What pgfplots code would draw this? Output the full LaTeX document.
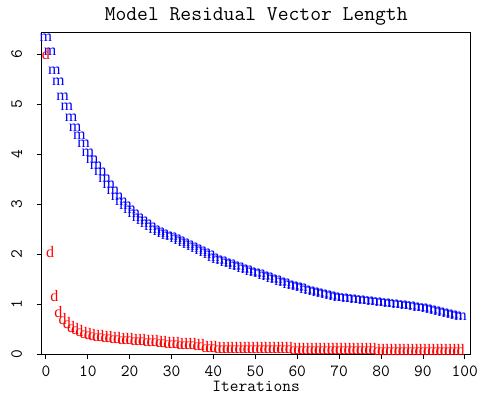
\documentclass[border=0pt]{standalone}
\usepackage{fontspec}
\newfontfamily\markfont{Liberation Serif}
\usepackage{pgfplots}
\pgfplotsset{compat=1.18}
\usepackage{pgfplotstable}
\pgfplotstableread{
it m
0 6.33
1 6.05
2 5.67
3 5.45
4 5.14
5 4.95
6 4.72
7 4.53
8 4.37
9 4.20
10 4.04
11 3.90
12 3.78
13 3.65
14 3.52
15 3.40
16 3.27
17 3.16
18 3.06
19 2.97
20 2.89
21 2.82
22 2.74
23 2.67
24 2.61
25 2.55
26 2.50
27 2.46
28 2.42
29 2.38
30 2.35
31 2.31
32 2.27
33 2.23
34 2.19
35 2.15
36 2.11
37 2.07
38 2.03
39 1.99
40 1.94
41 1.90
42 1.87
43 1.84
44 1.81
45 1.78
46 1.75
47 1.72
48 1.69
49 1.66
50 1.63
51 1.61
52 1.58
53 1.55
54 1.52
55 1.49
56 1.46
57 1.43
58 1.40
59 1.38
60 1.36
61 1.33
62 1.30
63 1.27
64 1.25
65 1.23
66 1.21
67 1.19
68 1.17
69 1.15
70 1.14
71 1.13
72 1.12
73 1.11
74 1.10
75 1.09
76 1.08
77 1.07
78 1.06
79 1.05
80 1.04
81 1.03
82 1.02
83 1.01
84 1.00
85 0.99
86 0.98
87 0.97
88 0.96
89 0.94
90 0.93
91 0.91
92 0.90
93 0.88
94 0.86
95 0.83
96 0.81
97 0.79
98 0.77
99 0.75
}\mtable
\pgfplotstableread{
it d
0 6.00
1 2.05
2 1.17
3 0.85
4 0.70
5 0.62
6 0.55
7 0.50
8 0.46
9 0.43
10 0.41
11 0.39
12 0.37
13 0.36
14 0.35
15 0.34
16 0.33
17 0.32
18 0.31
19 0.305
20 0.30
21 0.29
22 0.285
23 0.28
24 0.27
25 0.265
26 0.26
27 0.25
28 0.245
29 0.235
30 0.225
31 0.22
32 0.215
33 0.21
34 0.205
35 0.20
36 0.195
37 0.19
38 0.14
39 0.138
40 0.136
41 0.134
42 0.132
43 0.131
44 0.130
45 0.129
46 0.128
47 0.127
48 0.126
49 0.125
50 0.124
51 0.123
52 0.122
53 0.121
54 0.120
55 0.119
56 0.118
57 0.117
58 0.116
59 0.115
60 0.114
61 0.113
62 0.112
63 0.111
64 0.110
65 0.109
66 0.108
67 0.107
68 0.106
69 0.105
70 0.104
71 0.103
72 0.102
73 0.101
74 0.100
75 0.099
76 0.098
77 0.097
78 0.096
79 0.095
80 0.094
81 0.094
82 0.093
83 0.093
84 0.092
85 0.092
86 0.091
87 0.091
88 0.090
89 0.090
90 0.089
91 0.089
92 0.088
93 0.088
94 0.087
95 0.087
96 0.086
97 0.086
98 0.085
99 0.085
}\dtable
\begin{document}
\begin{tikzpicture}
\path[use as bounding box] (-41.7pt,-40.7pt) rectangle (441.3pt,354.3pt);
\begin{axis}[
  at={(0,0)}, anchor=south west,
  scale only axis,
  width=429pt, height=321.6pt,
  xmin=-1, xmax=101.4,
  ymin=0, ymax=6.43,
  axis line style={line width=1pt, black},
  xtick={0,10,...,100},
  ytick={0,1,...,6},
  tick align=outside,
  major tick length=5pt,
  tick style={line width=0.8pt, black},
  xtick pos=bottom, ytick pos=left,
  /pgf/number format/assume math mode=true,
  ticklabel style={font=\ttfamily\fontsize{17}{17}\selectfont},
  xticklabel style={yshift=-3pt},
  yticklabel style={rotate=90, anchor=center, yshift=20pt},
  title={Model Residual Vector Length},
  title style={font=\ttfamily\fontsize{21}{21}\selectfont, at={(axis description cs:0.5,1)}, anchor=center, yshift=10pt},
  xlabel={Iterations},
  xlabel style={font=\ttfamily\fontsize{17}{17}\selectfont, at={(axis description cs:0.5,0)}, anchor=center, yshift=-32.5pt},
  clip=false,
]
\addplot[only marks, mark=text, text mark={m}, text mark as node=true,
  text mark style={font=\markfont\fontsize{16}{16}\selectfont, text=blue, inner sep=0pt, anchor=center}]
  table[x=it, y=m] {\mtable};
\addplot[only marks, mark=text, text mark={d}, text mark as node=true,
  text mark style={font=\markfont\fontsize{16}{16}\selectfont, text=red, inner sep=0pt, anchor=center}]
  table[x=it, y=d] {\dtable};
\end{axis}
\end{tikzpicture}
\end{document}
